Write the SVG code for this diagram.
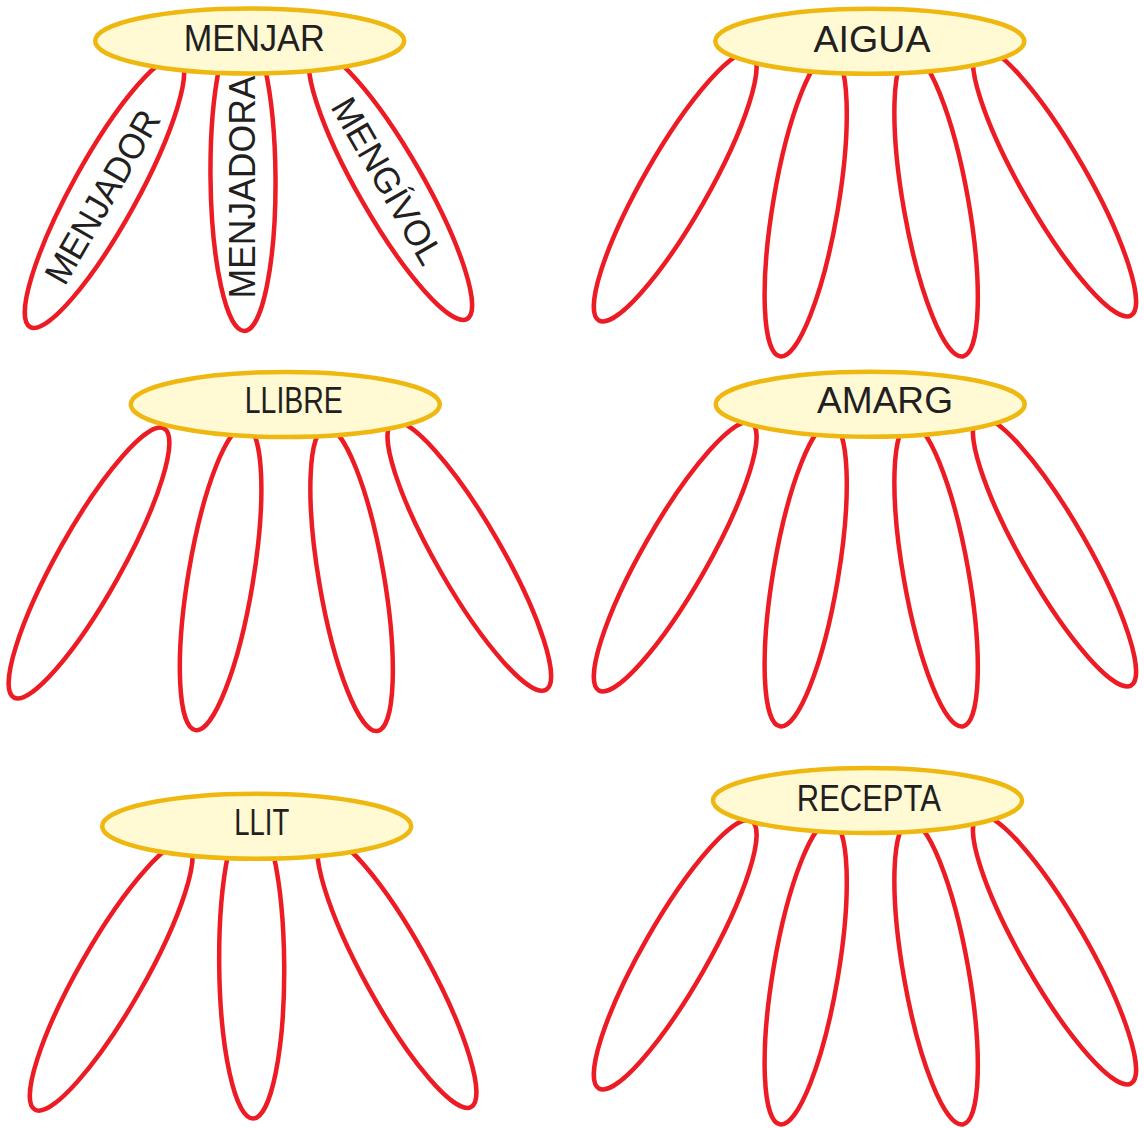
<svg xmlns="http://www.w3.org/2000/svg" xmlns:xlink="http://www.w3.org/1999/xlink" width="1144" height="1128" viewBox="0 0 1144 1128">
  <style>
    .petal { fill: #ffffff; stroke: #ED1C24; stroke-width: 4.5; }
    .center { fill: #FFF9D4; stroke: #EFB811; stroke-width: 4.5; }
    .label { font-family: "Liberation Sans", Arial, sans-serif; font-size: 36px; fill: #231F20; text-anchor: middle; }
  </style>
  <defs>
    <ellipse id="petal" cx="0" cy="0" rx="32.5" ry="154"/>
  </defs>
  <rect x="0" y="0" width="1144" height="1128" fill="#ffffff"/>

  <g id="connectors"></g>

  <!-- MENJAR -->
  <g id="flower-menjar">
    <g class="petal">
      <use xlink:href="#petal" href="#petal" transform="translate(104.5,192.2) rotate(28.9)"/>
      <use xlink:href="#petal" href="#petal" transform="translate(243,177) rotate(-0.5)"/>
      <use xlink:href="#petal" href="#petal" transform="translate(390.5,185.3) rotate(-29.8)"/>
    </g>
    <text class="label" transform="translate(113.2,203.1) rotate(-60)" textLength="194" lengthAdjust="spacingAndGlyphs">MENJADOR</text>
    <text class="label" transform="translate(255,187) rotate(-90)" textLength="223" lengthAdjust="spacingAndGlyphs">MENJADORA</text>
    <text class="label" transform="translate(376.6,187.3) rotate(60)" textLength="186" lengthAdjust="spacingAndGlyphs">MENGÍVOL</text>
    <g id="node-menjar">
      <ellipse class="center" cx="249.7" cy="41" rx="154.5" ry="32.5"/>
      <text class="label" x="254.2" y="50.7" textLength="141" lengthAdjust="spacingAndGlyphs">MENJAR</text>
    </g>
  </g>

  <!-- AIGUA -->
  <g id="flower-aigua">
    <g class="petal">
      <use xlink:href="#petal" href="#petal" transform="translate(675.2,186.7) rotate(29.7)"/>
      <use xlink:href="#petal" href="#petal" transform="translate(805.7,204.5) rotate(9.6)"/>
      <use xlink:href="#petal" href="#petal" transform="translate(936.1,204.8) rotate(-10)"/>
      <use xlink:href="#petal" href="#petal" transform="translate(1054.5,181.8) rotate(-29.8)"/>
    </g>
    <g id="node-aigua">
      <ellipse class="center" cx="869.8" cy="41.3" rx="154.5" ry="32.5"/>
      <text class="label" x="872" y="51.5" textLength="117" lengthAdjust="spacingAndGlyphs">AIGUA</text>
    </g>
  </g>

  <!-- LLIBRE -->
  <g id="flower-llibre">
    <g class="petal">
      <use xlink:href="#petal" href="#petal" transform="translate(89,563) rotate(29.2)"/>
      <use xlink:href="#petal" href="#petal" transform="translate(220.6,578.2) rotate(9.4)"/>
      <use xlink:href="#petal" href="#petal" transform="translate(351.6,579.2) rotate(-9.7)"/>
      <use xlink:href="#petal" href="#petal" transform="translate(469.3,556.3) rotate(-29.9)"/>
    </g>
    <g id="node-llibre">
      <ellipse class="center" cx="285.3" cy="404.5" rx="154.5" ry="32.5"/>
      <text class="label" x="293.8" y="413.3" textLength="98" lengthAdjust="spacingAndGlyphs">LLIBRE</text>
    </g>
  </g>

  <!-- AMARG -->
  <g id="flower-amarg">
    <g class="petal">
      <use xlink:href="#petal" href="#petal" transform="translate(675.2,556.7) rotate(29.7)"/>
      <use xlink:href="#petal" href="#petal" transform="translate(805.7,574.5) rotate(9.6)"/>
      <use xlink:href="#petal" href="#petal" transform="translate(936.1,574.8) rotate(-10)"/>
      <use xlink:href="#petal" href="#petal" transform="translate(1054.5,551.8) rotate(-29.8)"/>
    </g>
    <g id="node-amarg">
      <ellipse class="center" cx="870.2" cy="404.3" rx="154.5" ry="32.5"/>
      <text class="label" x="885" y="412.7" textLength="136" lengthAdjust="spacingAndGlyphs">AMARG</text>
    </g>
  </g>

  <!-- LLIT -->
  <g id="flower-llit">
    <g class="petal">
      <use xlink:href="#petal" href="#petal" transform="translate(111.2,975.9) rotate(29.7)"/>
      <use xlink:href="#petal" href="#petal" transform="translate(251.7,964.5) rotate(-0.5)"/>
      <use xlink:href="#petal" href="#petal" transform="translate(396.9,972) rotate(-28.8)"/>
    </g>
    <g id="node-llit">
      <ellipse class="center" cx="256.7" cy="826.3" rx="154.5" ry="32.5"/>
      <text class="label" x="261.7" y="835" textLength="55" lengthAdjust="spacingAndGlyphs">LLIT</text>
    </g>
  </g>

  <!-- RECEPTA -->
  <g id="flower-recepta">
    <g class="petal">
      <use xlink:href="#petal" href="#petal" transform="translate(675.2,954.7) rotate(29.7)"/>
      <use xlink:href="#petal" href="#petal" transform="translate(805.7,972.5) rotate(9.6)"/>
      <use xlink:href="#petal" href="#petal" transform="translate(936.1,972.8) rotate(-10)"/>
      <use xlink:href="#petal" href="#petal" transform="translate(1054.5,949.8) rotate(-29.8)"/>
    </g>
    <g id="node-recepta">
      <ellipse class="center" cx="867.5" cy="800.5" rx="154.5" ry="32.5"/>
      <text class="label" x="868.8" y="810.7" textLength="144" lengthAdjust="spacingAndGlyphs">RECEPTA</text>
    </g>
  </g>
</svg>
